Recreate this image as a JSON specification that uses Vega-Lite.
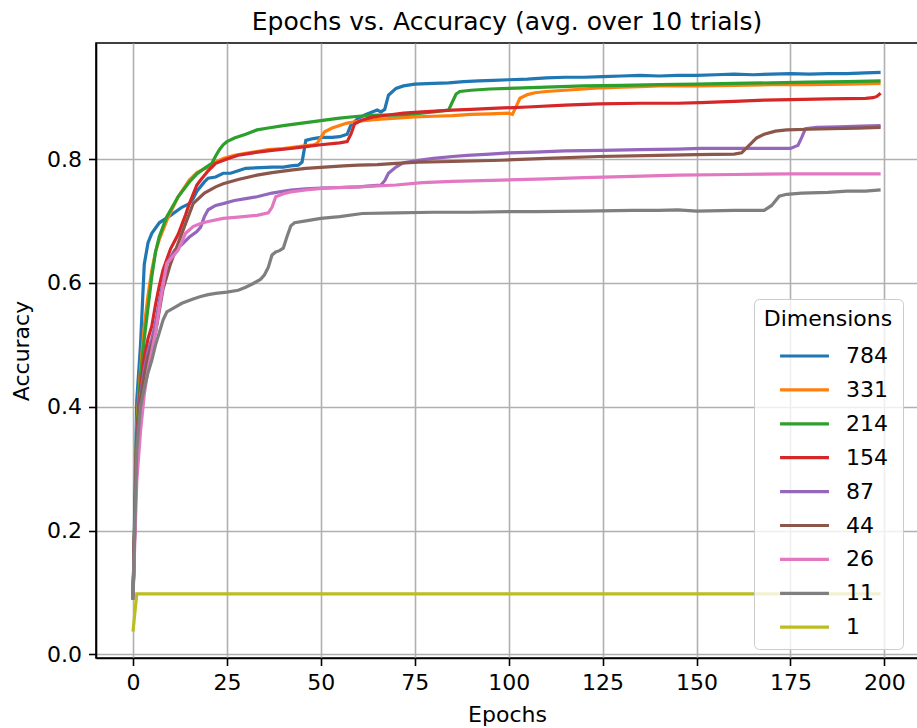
{
"$schema": "https://vega.github.io/schema/vega-lite/v6.json",
"width": 822,
"height": 615,
"autosize": {"type": "none"},
"padding": {"left": 96, "top": 43, "right": 0, "bottom": 70},
"background": "white",
"title": {"text": "Epochs vs. Accuracy (avg. over 10 trials)", "font": "DejaVu Sans", "fontSize": 25, "fontWeight": "normal", "color": "black", "anchor": "middle", "baseline": "alphabetic", "offset": -12},
"config": {
"view": {"stroke": "black", "strokeWidth": 1.6},
"axis": {"labelFont": "DejaVu Sans", "labelFontSize": 22, "labelColor": "black", "titleFont": "DejaVu Sans", "titleFontSize": 22, "titleFontWeight": "normal", "titleColor": "black", "domainColor": "black", "domainWidth": 1.6, "tickColor": "black", "tickWidth": 1.6, "tickSize": 7.5, "labelPadding": 7, "gridColor": "#b0b0b0", "gridWidth": 1.6, "grid": true},
"legend": {"labelFont": "DejaVu Sans", "labelFontSize": 22, "labelColor": "black", "titleFont": "DejaVu Sans", "titleFontSize": 22, "titleFontWeight": "normal", "titleColor": "black", "symbolType": "M-1.63,0H1.63", "symbolSize": 900, "symbolStrokeWidth": 3.2, "fillColor": "rgba(255,255,255,0.8)", "strokeColor": "#cccccc", "cornerRadius": 5, "padding": 10, "rowPadding": 5.9, "symbolOffset": 19.5, "labelOffset": 24.5, "titleAnchor": "middle", "titlePadding": 8}
},
"data": {"values": [
{"e":0,"d":"784","a":0.088},{"e":1,"d":"784","a":0.41},{"e":2,"d":"784","a":0.5},{"e":3,"d":"784","a":0.63},{"e":4,"d":"784","a":0.665},{"e":5,"d":"784","a":0.68},{"e":7,"d":"784","a":0.697},{"e":10,"d":"784","a":0.709},{"e":13,"d":"784","a":0.722},{"e":15,"d":"784","a":0.728},{"e":16,"d":"784","a":0.736},{"e":17,"d":"784","a":0.748},{"e":19,"d":"784","a":0.763},{"e":20,"d":"784","a":0.769},{"e":22,"d":"784","a":0.771},{"e":24,"d":"784","a":0.777},{"e":26,"d":"784","a":0.777},{"e":28,"d":"784","a":0.781},{"e":30,"d":"784","a":0.785},{"e":34,"d":"784","a":0.786},{"e":37,"d":"784","a":0.787},{"e":40,"d":"784","a":0.787},{"e":42,"d":"784","a":0.789},{"e":44,"d":"784","a":0.79},{"e":45,"d":"784","a":0.795},{"e":46,"d":"784","a":0.83},{"e":48,"d":"784","a":0.833},{"e":50,"d":"784","a":0.835},{"e":53,"d":"784","a":0.835},{"e":55,"d":"784","a":0.836},{"e":57,"d":"784","a":0.84},{"e":58,"d":"784","a":0.855},{"e":60,"d":"784","a":0.866},{"e":62,"d":"784","a":0.872},{"e":65,"d":"784","a":0.879},{"e":66,"d":"784","a":0.876},{"e":67,"d":"784","a":0.88},{"e":68,"d":"784","a":0.903},{"e":70,"d":"784","a":0.914},{"e":72,"d":"784","a":0.918},{"e":75,"d":"784","a":0.921},{"e":80,"d":"784","a":0.922},{"e":84,"d":"784","a":0.923},{"e":88,"d":"784","a":0.925},{"e":92,"d":"784","a":0.926},{"e":96,"d":"784","a":0.927},{"e":100,"d":"784","a":0.928},{"e":105,"d":"784","a":0.929},{"e":110,"d":"784","a":0.931},{"e":115,"d":"784","a":0.932},{"e":120,"d":"784","a":0.932},{"e":125,"d":"784","a":0.933},{"e":130,"d":"784","a":0.934},{"e":135,"d":"784","a":0.935},{"e":140,"d":"784","a":0.934},{"e":145,"d":"784","a":0.935},{"e":150,"d":"784","a":0.935},{"e":155,"d":"784","a":0.936},{"e":160,"d":"784","a":0.937},{"e":165,"d":"784","a":0.936},{"e":170,"d":"784","a":0.937},{"e":175,"d":"784","a":0.938},{"e":180,"d":"784","a":0.937},{"e":185,"d":"784","a":0.938},{"e":190,"d":"784","a":0.938},{"e":195,"d":"784","a":0.939},{"e":199,"d":"784","a":0.94},
{"e":0,"d":"331","a":0.09},{"e":1,"d":"331","a":0.37},{"e":2,"d":"331","a":0.46},{"e":3,"d":"331","a":0.53},{"e":4,"d":"331","a":0.58},{"e":5,"d":"331","a":0.62},{"e":6,"d":"331","a":0.65},{"e":7,"d":"331","a":0.67},{"e":9,"d":"331","a":0.701},{"e":12,"d":"331","a":0.739},{"e":15,"d":"331","a":0.766},{"e":17,"d":"331","a":0.778},{"e":20,"d":"331","a":0.787},{"e":22,"d":"331","a":0.795},{"e":24,"d":"331","a":0.801},{"e":27,"d":"331","a":0.806},{"e":30,"d":"331","a":0.809},{"e":33,"d":"331","a":0.812},{"e":36,"d":"331","a":0.815},{"e":40,"d":"331","a":0.817},{"e":44,"d":"331","a":0.82},{"e":48,"d":"331","a":0.823},{"e":49,"d":"331","a":0.825},{"e":50,"d":"331","a":0.835},{"e":51,"d":"331","a":0.844},{"e":53,"d":"331","a":0.85},{"e":55,"d":"331","a":0.854},{"e":57,"d":"331","a":0.858},{"e":60,"d":"331","a":0.861},{"e":65,"d":"331","a":0.864},{"e":70,"d":"331","a":0.866},{"e":75,"d":"331","a":0.868},{"e":80,"d":"331","a":0.869},{"e":85,"d":"331","a":0.87},{"e":90,"d":"331","a":0.872},{"e":95,"d":"331","a":0.873},{"e":100,"d":"331","a":0.874},{"e":101,"d":"331","a":0.872},{"e":102,"d":"331","a":0.885},{"e":103,"d":"331","a":0.898},{"e":105,"d":"331","a":0.904},{"e":107,"d":"331","a":0.907},{"e":110,"d":"331","a":0.909},{"e":115,"d":"331","a":0.911},{"e":120,"d":"331","a":0.913},{"e":125,"d":"331","a":0.915},{"e":130,"d":"331","a":0.916},{"e":135,"d":"331","a":0.917},{"e":140,"d":"331","a":0.918},{"e":150,"d":"331","a":0.918},{"e":160,"d":"331","a":0.919},{"e":170,"d":"331","a":0.92},{"e":180,"d":"331","a":0.92},{"e":190,"d":"331","a":0.921},{"e":199,"d":"331","a":0.922},
{"e":0,"d":"214","a":0.09},{"e":1,"d":"214","a":0.36},{"e":2,"d":"214","a":0.45},{"e":3,"d":"214","a":0.51},{"e":4,"d":"214","a":0.56},{"e":5,"d":"214","a":0.61},{"e":6,"d":"214","a":0.65},{"e":7,"d":"214","a":0.675},{"e":9,"d":"214","a":0.707},{"e":12,"d":"214","a":0.739},{"e":15,"d":"214","a":0.763},{"e":17,"d":"214","a":0.776},{"e":19,"d":"214","a":0.785},{"e":21,"d":"214","a":0.793},{"e":22,"d":"214","a":0.805},{"e":23,"d":"214","a":0.815},{"e":24,"d":"214","a":0.823},{"e":25,"d":"214","a":0.828},{"e":27,"d":"214","a":0.834},{"e":30,"d":"214","a":0.84},{"e":33,"d":"214","a":0.847},{"e":36,"d":"214","a":0.85},{"e":40,"d":"214","a":0.854},{"e":45,"d":"214","a":0.858},{"e":50,"d":"214","a":0.862},{"e":55,"d":"214","a":0.866},{"e":60,"d":"214","a":0.869},{"e":65,"d":"214","a":0.871},{"e":70,"d":"214","a":0.871},{"e":75,"d":"214","a":0.873},{"e":80,"d":"214","a":0.876},{"e":84,"d":"214","a":0.879},{"e":85,"d":"214","a":0.892},{"e":86,"d":"214","a":0.905},{"e":87,"d":"214","a":0.909},{"e":90,"d":"214","a":0.911},{"e":95,"d":"214","a":0.913},{"e":100,"d":"214","a":0.914},{"e":110,"d":"214","a":0.916},{"e":120,"d":"214","a":0.918},{"e":130,"d":"214","a":0.919},{"e":140,"d":"214","a":0.92},{"e":150,"d":"214","a":0.921},{"e":160,"d":"214","a":0.922},{"e":170,"d":"214","a":0.923},{"e":180,"d":"214","a":0.924},{"e":190,"d":"214","a":0.925},{"e":199,"d":"214","a":0.926},
{"e":0,"d":"154","a":0.09},{"e":1,"d":"154","a":0.35},{"e":2,"d":"154","a":0.43},{"e":3,"d":"154","a":0.48},{"e":4,"d":"154","a":0.51},{"e":5,"d":"154","a":0.53},{"e":6,"d":"154","a":0.565},{"e":7,"d":"154","a":0.595},{"e":8,"d":"154","a":0.621},{"e":10,"d":"154","a":0.655},{"e":12,"d":"154","a":0.678},{"e":14,"d":"154","a":0.71},{"e":15,"d":"154","a":0.728},{"e":17,"d":"154","a":0.758},{"e":18,"d":"154","a":0.766},{"e":20,"d":"154","a":0.781},{"e":22,"d":"154","a":0.793},{"e":25,"d":"154","a":0.8},{"e":28,"d":"154","a":0.806},{"e":32,"d":"154","a":0.81},{"e":37,"d":"154","a":0.814},{"e":42,"d":"154","a":0.817},{"e":46,"d":"154","a":0.82},{"e":50,"d":"154","a":0.823},{"e":55,"d":"154","a":0.826},{"e":57,"d":"154","a":0.828},{"e":58,"d":"154","a":0.84},{"e":59,"d":"154","a":0.857},{"e":61,"d":"154","a":0.863},{"e":64,"d":"154","a":0.868},{"e":68,"d":"154","a":0.871},{"e":72,"d":"154","a":0.874},{"e":77,"d":"154","a":0.876},{"e":85,"d":"154","a":0.879},{"e":90,"d":"154","a":0.88},{"e":97,"d":"154","a":0.882},{"e":105,"d":"154","a":0.884},{"e":115,"d":"154","a":0.887},{"e":124,"d":"154","a":0.889},{"e":135,"d":"154","a":0.89},{"e":145,"d":"154","a":0.89},{"e":151,"d":"154","a":0.891},{"e":160,"d":"154","a":0.893},{"e":168,"d":"154","a":0.895},{"e":175,"d":"154","a":0.896},{"e":185,"d":"154","a":0.897},{"e":195,"d":"154","a":0.898},{"e":197,"d":"154","a":0.899},{"e":198,"d":"154","a":0.901},{"e":199,"d":"154","a":0.906},
{"e":0,"d":"87","a":0.09},{"e":1,"d":"87","a":0.34},{"e":2,"d":"87","a":0.42},{"e":3,"d":"87","a":0.46},{"e":4,"d":"87","a":0.49},{"e":5,"d":"87","a":0.51},{"e":6,"d":"87","a":0.535},{"e":7,"d":"87","a":0.57},{"e":9,"d":"87","a":0.631},{"e":11,"d":"87","a":0.652},{"e":13,"d":"87","a":0.662},{"e":15,"d":"87","a":0.674},{"e":17,"d":"87","a":0.683},{"e":18,"d":"87","a":0.69},{"e":19,"d":"87","a":0.707},{"e":20,"d":"87","a":0.718},{"e":22,"d":"87","a":0.725},{"e":24,"d":"87","a":0.728},{"e":27,"d":"87","a":0.733},{"e":30,"d":"87","a":0.736},{"e":33,"d":"87","a":0.739},{"e":37,"d":"87","a":0.745},{"e":42,"d":"87","a":0.75},{"e":46,"d":"87","a":0.752},{"e":50,"d":"87","a":0.753},{"e":55,"d":"87","a":0.754},{"e":60,"d":"87","a":0.755},{"e":64,"d":"87","a":0.757},{"e":66,"d":"87","a":0.758},{"e":67,"d":"87","a":0.765},{"e":68,"d":"87","a":0.777},{"e":70,"d":"87","a":0.787},{"e":72,"d":"87","a":0.794},{"e":76,"d":"87","a":0.798},{"e":80,"d":"87","a":0.801},{"e":85,"d":"87","a":0.804},{"e":89,"d":"87","a":0.806},{"e":95,"d":"87","a":0.808},{"e":100,"d":"87","a":0.81},{"e":107,"d":"87","a":0.811},{"e":115,"d":"87","a":0.813},{"e":125,"d":"87","a":0.814},{"e":135,"d":"87","a":0.815},{"e":145,"d":"87","a":0.816},{"e":151,"d":"87","a":0.817},{"e":160,"d":"87","a":0.817},{"e":170,"d":"87","a":0.817},{"e":175,"d":"87","a":0.817},{"e":177,"d":"87","a":0.822},{"e":178,"d":"87","a":0.835},{"e":179,"d":"87","a":0.849},{"e":182,"d":"87","a":0.851},{"e":188,"d":"87","a":0.852},{"e":194,"d":"87","a":0.853},{"e":199,"d":"87","a":0.854},
{"e":0,"d":"44","a":0.09},{"e":1,"d":"44","a":0.34},{"e":2,"d":"44","a":0.41},{"e":3,"d":"44","a":0.45},{"e":4,"d":"44","a":0.48},{"e":5,"d":"44","a":0.5},{"e":6,"d":"44","a":0.52},{"e":8,"d":"44","a":0.59},{"e":10,"d":"44","a":0.631},{"e":13,"d":"44","a":0.68},{"e":16,"d":"44","a":0.728},{"e":19,"d":"44","a":0.745},{"e":22,"d":"44","a":0.755},{"e":24,"d":"44","a":0.76},{"e":28,"d":"44","a":0.767},{"e":33,"d":"44","a":0.774},{"e":37,"d":"44","a":0.778},{"e":42,"d":"44","a":0.782},{"e":46,"d":"44","a":0.785},{"e":51,"d":"44","a":0.787},{"e":56,"d":"44","a":0.789},{"e":60,"d":"44","a":0.79},{"e":65,"d":"44","a":0.791},{"e":70,"d":"44","a":0.793},{"e":76,"d":"44","a":0.795},{"e":85,"d":"44","a":0.796},{"e":98,"d":"44","a":0.798},{"e":110,"d":"44","a":0.801},{"e":124,"d":"44","a":0.804},{"e":140,"d":"44","a":0.806},{"e":150,"d":"44","a":0.807},{"e":160,"d":"44","a":0.808},{"e":162,"d":"44","a":0.81},{"e":164,"d":"44","a":0.822},{"e":166,"d":"44","a":0.834},{"e":168,"d":"44","a":0.84},{"e":171,"d":"44","a":0.845},{"e":174,"d":"44","a":0.847},{"e":180,"d":"44","a":0.848},{"e":186,"d":"44","a":0.849},{"e":193,"d":"44","a":0.85},{"e":199,"d":"44","a":0.851},
{"e":0,"d":"26","a":0.09},{"e":1,"d":"26","a":0.28},{"e":2,"d":"26","a":0.36},{"e":3,"d":"26","a":0.42},{"e":4,"d":"26","a":0.46},{"e":5,"d":"26","a":0.49},{"e":6,"d":"26","a":0.52},{"e":7,"d":"26","a":0.56},{"e":9,"d":"26","a":0.631},{"e":12,"d":"26","a":0.653},{"e":14,"d":"26","a":0.68},{"e":16,"d":"26","a":0.691},{"e":18,"d":"26","a":0.696},{"e":20,"d":"26","a":0.699},{"e":24,"d":"26","a":0.704},{"e":28,"d":"26","a":0.706},{"e":33,"d":"26","a":0.709},{"e":36,"d":"26","a":0.713},{"e":37,"d":"26","a":0.722},{"e":38,"d":"26","a":0.739},{"e":40,"d":"26","a":0.744},{"e":42,"d":"26","a":0.747},{"e":46,"d":"26","a":0.75},{"e":51,"d":"26","a":0.753},{"e":60,"d":"26","a":0.755},{"e":70,"d":"26","a":0.758},{"e":77,"d":"26","a":0.762},{"e":85,"d":"26","a":0.764},{"e":98,"d":"26","a":0.766},{"e":110,"d":"26","a":0.768},{"e":120,"d":"26","a":0.77},{"e":133,"d":"26","a":0.772},{"e":145,"d":"26","a":0.774},{"e":160,"d":"26","a":0.775},{"e":175,"d":"26","a":0.776},{"e":185,"d":"26","a":0.776},{"e":199,"d":"26","a":0.776},
{"e":0,"d":"11","a":0.088},{"e":1,"d":"11","a":0.33},{"e":2,"d":"11","a":0.4},{"e":3,"d":"11","a":0.43},{"e":4,"d":"11","a":0.455},{"e":5,"d":"11","a":0.475},{"e":6,"d":"11","a":0.5},{"e":7,"d":"11","a":0.52},{"e":8,"d":"11","a":0.54},{"e":9,"d":"11","a":0.553},{"e":11,"d":"11","a":0.56},{"e":13,"d":"11","a":0.567},{"e":16,"d":"11","a":0.574},{"e":18,"d":"11","a":0.578},{"e":20,"d":"11","a":0.581},{"e":22,"d":"11","a":0.583},{"e":25,"d":"11","a":0.585},{"e":28,"d":"11","a":0.588},{"e":30,"d":"11","a":0.593},{"e":32,"d":"11","a":0.599},{"e":34,"d":"11","a":0.606},{"e":35,"d":"11","a":0.613},{"e":36,"d":"11","a":0.625},{"e":37,"d":"11","a":0.645},{"e":38,"d":"11","a":0.65},{"e":39,"d":"11","a":0.652},{"e":40,"d":"11","a":0.656},{"e":41,"d":"11","a":0.675},{"e":42,"d":"11","a":0.692},{"e":43,"d":"11","a":0.697},{"e":46,"d":"11","a":0.7},{"e":50,"d":"11","a":0.704},{"e":55,"d":"11","a":0.707},{"e":61,"d":"11","a":0.712},{"e":70,"d":"11","a":0.713},{"e":80,"d":"11","a":0.714},{"e":90,"d":"11","a":0.714},{"e":100,"d":"11","a":0.715},{"e":107,"d":"11","a":0.715},{"e":120,"d":"11","a":0.716},{"e":133,"d":"11","a":0.717},{"e":140,"d":"11","a":0.717},{"e":145,"d":"11","a":0.718},{"e":150,"d":"11","a":0.716},{"e":160,"d":"11","a":0.717},{"e":168,"d":"11","a":0.717},{"e":170,"d":"11","a":0.725},{"e":172,"d":"11","a":0.74},{"e":174,"d":"11","a":0.743},{"e":178,"d":"11","a":0.745},{"e":185,"d":"11","a":0.746},{"e":190,"d":"11","a":0.748},{"e":195,"d":"11","a":0.748},{"e":199,"d":"11","a":0.75},
{"e":0,"d":"1","a":0.037},{"e":1,"d":"1","a":0.0977},{"e":50,"d":"1","a":0.0977},{"e":100,"d":"1","a":0.0977},{"e":150,"d":"1","a":0.0977},{"e":199,"d":"1","a":0.0977}
]},
"mark": {"type": "line", "strokeWidth": 3.2, "interpolate": "linear"},
"encoding": {
"x": {"field": "e", "type": "quantitative", "scale": {"domain": [-9.85, 208.95], "nice": false, "zero": false}, "axis": {"values": [0, 25, 50, 75, 100, 125, 150, 175, 200], "title": "Epochs", "titlePadding": 11}},
"y": {"field": "a", "type": "quantitative", "scale": {"domain": [-0.0057, 0.9873], "nice": false, "zero": false}, "axis": {"values": [0, 0.2, 0.4, 0.6, 0.8], "format": ".1f", "title": "Accuracy", "titlePadding": 13}},
"color": {"field": "d", "type": "nominal", "scale": {"domain": ["784", "331", "214", "154", "87", "44", "26", "11", "1"], "range": ["#1f77b4", "#ff7f0e", "#2ca02c", "#d62728", "#9467bd", "#8c564b", "#e377c2", "#7f7f7f", "#bcbd22"]}, "legend": {"title": "Dimensions", "orient": "none", "legendX": 658, "legendY": 256}}
}
}
